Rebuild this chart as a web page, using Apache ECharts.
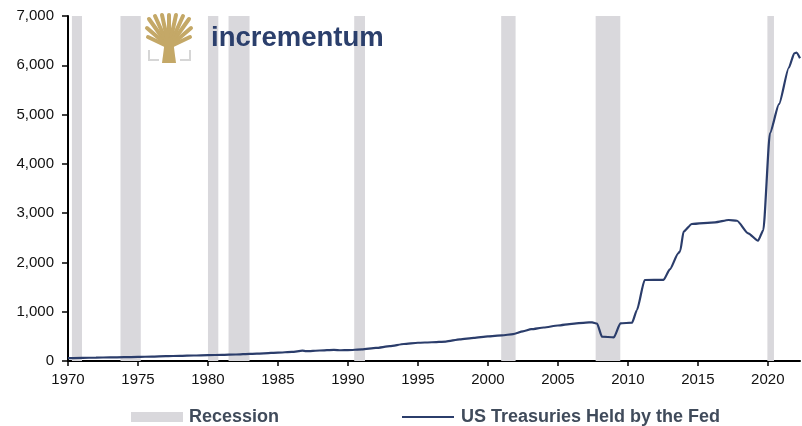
<!DOCTYPE html>
<html>
<head>
<meta charset="utf-8">
<script src="https://cdn.jsdelivr.net/npm/echarts@6/dist/echarts.min.js"></script>
<style>html,body{margin:0;padding:0;background:#fff}#c{width:802px;height:426px}</style>
</head>
<body>
<div id="c"></div>
<script>
// Fed holdings of US Treasuries (USD bn), by decimal year
const years = [1970.0,1971.0,1972.0,1973.0,1974.0,1975.0,1976.0,1977.0,1978.0,1979.0,1980.0,1981.0,1982.0,1983.0,1984.0,1985.0,1986.0,1986.75,1987.0,1988.0,1989.0,1989.5,1990.0,1991.0,1992.0,1993.0,1994.0,1995.0,1996.0,1997.0,1998.0,1999.0,2000.0,2001.0,2001.8,2002.5,2003.1,2004.0,2005.0,2006.0,2007.0,2007.45,2007.8,2008.15,2009.0,2009.47,2010.3,2010.65,2011.2,2012.55,2013.0,2013.6,2013.74,2013.98,2014.57,2016.24,2017.2,2017.8,2018.6,2019.3,2019.68,2020.15,2020.8,2021.5,2021.89,2022.05,2022.3];
const treasuries = [58,63,69,73,78,83,90,97,105,112,119,124,132,145,156,170,185,209,200,213,226,218,222,235,265,300,345,370,380,395,440,470,500,520,545,600,645,680,720,755,780,785,760,494,481,765,777,1035,1643,1645,1860,2185,2230,2624,2780,2814,2861,2846,2590,2441,2658,4620,5210,5950,6243,6255,6142];
// Recession periods (start, end) in decimal years
const recessionStart = [1970.28,1973.75,1980.0,1981.47,1990.45,2000.95,2007.7,2019.97];
const recessionEnd   = [1971.0,1975.2,1980.74,1982.97,1991.22,2001.98,2009.46,2020.44];
const xTicks = [1970,1975,1980,1985,1990,1995,2000,2005,2010,2015,2020];
const yTicks = [0,1000,2000,3000,4000,5000,6000,7000];
const lineName = 'US Treasuries Held by the Fed';
const bandName = 'Recession';

const chart = echarts.init(document.getElementById('c'), null, {renderer:'canvas'});
const font = 'Liberation Sans, Arial, sans-serif';
const gold = '#c4a867';
const branchTips = [[149,19],[155,16],[162,15],[169,15],[176,15],[183,16],[189,19],[147,28],[191,28],[148,37],[190,37]];
const graphics = [];
branchTips.forEach(p => {
  graphics.push({type:'line', shape:{x1:169,y1:47,x2:p[0],y2:p[1]}, style:{stroke:gold,lineWidth:4,lineCap:'round'}, z:100});
});
graphics.push({type:'polygon', shape:{points:[[165,40],[173,40],[176,63],[162,63]]}, style:{fill:gold}, z:100});
graphics.push({type:'polyline', shape:{points:[[149,50],[149,60],[159,60]]}, style:{stroke:'#d6d6d6',lineWidth:2,fill:null}, z:100});
graphics.push({type:'polyline', shape:{points:[[190,50],[190,60],[180,60]]}, style:{stroke:'#d6d6d6',lineWidth:2,fill:null}, z:100});
graphics.push({type:'text', left:211, top:24, style:{text:'incrementum', fill:'#2b3f6c', font:'bold 27.5px '+font}, z:100});

chart.setOption({
  animation:false,
  backgroundColor:'#fff',
  grid:{left:68,right:2,top:16,bottom:65,containLabel:false},
  graphic:graphics,
  legend:[
    {left:126, top:403, itemWidth:52, itemHeight:10, itemGap:10, data:[{name:bandName, icon:'rect'}],
     textStyle:{fontFamily:font, fontWeight:'bold', fontSize:18, color:'#404b5b', padding:[0,0,0,1]}},
    {left:397, top:403, itemWidth:52, itemHeight:10, data:[{name:lineName, icon:'path://M0,4H52V6H0Z'}],
     textStyle:{fontFamily:font, fontWeight:'bold', fontSize:18, color:'#404b5b', padding:[0,0,0,2]}}
  ],
  xAxis:{type:'value', min:1970, max:2022.3, interval:5,
    splitLine:{show:false},
    axisLine:{show:true, onZero:false, lineStyle:{color:'#000', width:2}},
    axisTick:{show:true, length:5, customValues:xTicks, lineStyle:{color:'#000', width:1.5}},
    axisLabel:{customValues:xTicks, margin:11, fontFamily:font, fontSize:15, color:'#111', formatter:v=>String(v)}
  },
  yAxis:{type:'value', min:0, max:7000, interval:1000,
    splitLine:{show:false},
    axisLine:{show:true, lineStyle:{color:'#000', width:2}},
    axisTick:{show:true, length:6, lineStyle:{color:'#000', width:1.5}},
    axisLabel:{margin:14, fontFamily:font, fontSize:15, color:'#111',
      formatter:v=>v.toLocaleString('en-US')}
  },
  series:[
    {name:bandName, type:'line', data:[], itemStyle:{color:'#d9d8dc'}, lineStyle:{color:'#d9d8dc'},
     markArea:{silent:true, itemStyle:{color:'#d9d8dc'},
       data:recessionStart.map((s,i)=>[{xAxis:s},{xAxis:recessionEnd[i]}])}, z:1},
    {name:lineName, type:'line', showSymbol:false, smooth:0.2, smoothMonotone:'x',
     data:years.map((y,i)=>[y,treasuries[i]]),
     itemStyle:{color:'#2b3d6b'}, lineStyle:{color:'#2b3d6b', width:2.2}, z:5}
  ]
});
</script>
</body>
</html>
